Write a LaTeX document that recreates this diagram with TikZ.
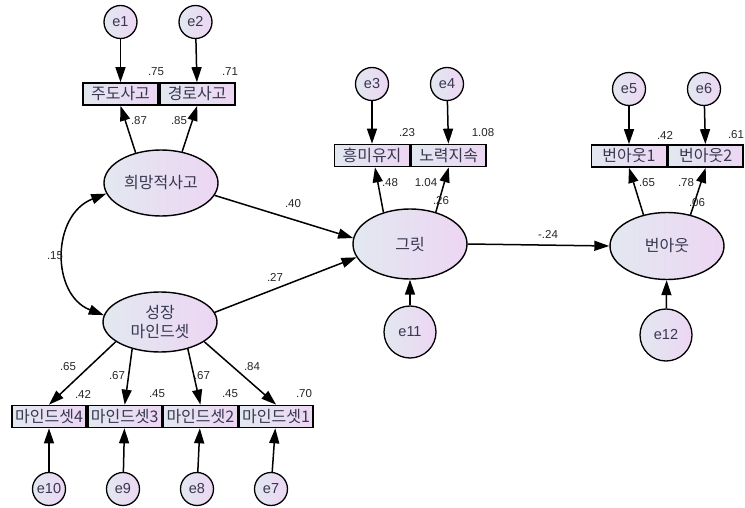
\documentclass[tikz,border=0pt]{standalone}
\usepackage{fontspec}
\setmainfont{Liberation Sans}
\newfontfamily\krfont{Noto Sans CJK KR}
\usetikzlibrary{%
  arrows.meta,%
  shapes.geometric,%
  positioning}

\definecolor{fillL}{RGB}{226,232,240}
\definecolor{fillR}{RGB}{237,214,243}
\definecolor{krtext}{RGB}{55,55,80}

\begin{document}
\begin{tikzpicture}[x=1pt,y=-1pt,
    latent/.style={ellipse,draw,line width=1.4pt,left color=fillL,right color=fillR,
      minimum width=114pt,minimum height=66pt,inner sep=0pt,text=krtext,align=center,
      font=\krfont\fontsize{16}{19}\selectfont},
    indic/.style={rectangle,draw,line width=1.7pt,left color=fillL,right color=fillR,
      minimum width=75pt,minimum height=22pt,inner sep=0pt,text=krtext,
      font=\krfont\fontsize{16}{18}\selectfont},
    errc/.style={circle,draw,line width=1.3pt,left color=fillL,right color=fillR,
      minimum size=33pt,inner sep=0pt,text=krtext,font=\fontsize{14.5}{16}\selectfont},
    bigerr/.style={errc,minimum size=52pt},
    reg/.style={line width=1.5pt,-{Triangle[length=15pt,width=10pt]}},
    coef/.style={inner sep=0pt,text=black!85,font=\fontsize{11.5}{13}\selectfont}]
  \useasboundingbox (0,0) rectangle (745,508);

  % latent variables
  \node[latent] (hope) at (161,183) {희망적사고};
  \node[latent,minimum height=60pt] (mind) at (160,322) {성장\\마인드셋};
  \node[latent,minimum height=70pt] (grit) at (410,244) {그릿};
  \node[latent,minimum height=67pt] (burn) at (667,246) {번아웃};

  % observed variables
  \node[indic] (o1) at (120.5,94) {주도사고};
  \node[indic,right=0pt of o1] (o2) {경로사고};
  \node[indic] (g1) at (372,155.5) {흥미유지};
  \node[indic,right=0pt of g1] (g2) {노력지속};
  \node[indic] (b1) at (629,156) {번아웃1};
  \node[indic,right=0pt of b1] (b2) {번아웃2};
  \node[indic,minimum width=74pt] (m4) at (49,416.5) {마인드셋4};
  \node[indic,minimum width=74pt,right=0pt of m4] (m3) {마인드셋3};
  \node[indic,minimum width=74pt,right=0pt of m3] (m2) {마인드셋2};
  \node[indic,minimum width=74pt,right=0pt of m2] (m1) {마인드셋1};

  % error terms
  \node[errc] (e1) at (120.5,22) {e1};
  \node[errc] (e2) at (195.5,22) {e2};
  \node[errc] (e3) at (372,84) {e3};
  \node[errc] (e4) at (447,84) {e4};
  \node[errc] (e5) at (629,89) {e5};
  \node[errc] (e6) at (704,89) {e6};
  \node[errc] (e10) at (49,489) {e10};
  \node[errc] (e9) at (123,489) {e9};
  \node[errc] (e8) at (197,489) {e8};
  \node[errc] (e7) at (271,489) {e7};
  \node[bigerr] (e11) at (410,332) {e11};
  \node[bigerr] (e12) at (666,335) {e12};

  % error paths
  \draw[reg] (e1) -- (o1);
  \draw[reg] (e2) -- (o2);
  \draw[reg] (e3) -- (g1);
  \draw[reg] (e4) -- (g2);
  \draw[reg] (e5) -- (b1);
  \draw[reg] (e6) -- (b2);
  \draw[reg] (e10) -- (m4);
  \draw[reg] (e9) -- (m3);
  \draw[reg] (e8) -- (m2);
  \draw[reg] (e7) -- (m1);
  \draw[reg] (e11) -- (grit);
  \draw[reg] (e12) -- (burn);

  % loadings
  \draw[reg] (hope.130) -- (o1.south);
  \draw[reg] (hope.56) -- (o2.south);
  \draw[reg] (grit.130) -- ([xshift=3pt]g1.south);
  \draw[reg] (grit.51) -- (g2.south);
  \draw[reg] (burn.127) -- (b1.south);
  \draw[reg] (burn.53) -- (b2.south);
  \draw[reg] (mind.204) -- (m4.north);
  \draw[reg] (mind.224) -- (m3.north);
  \draw[reg] (mind.316) -- (m2.north);
  \draw[reg] (mind.336) -- (m1.north);

  % structural paths
  \draw[reg] (hope.347) -- (grit.174);
  \draw[reg] (mind.10) -- (grit.194);
  \draw[reg] (grit.east) -- (burn.west);
  \draw[line width=1.5pt,{Triangle[length=15pt,width=10pt]}-{Triangle[length=15pt,width=10pt]}]
    (hope.191) .. controls (51,215) and (51,295) .. (mind.173);

  % estimates
  \node[coef] (r-o1) at (156,72) {.75};
  \node[coef] (r-o2) at (230,72) {.71};
  \node[coef] (l-o1) at (139,121) {.87};
  \node[coef] (l-o2) at (179,121) {.85};
  \node[coef] (c-hm) at (55,256) {.15};
  \node[coef] (p-hg) at (293,204) {.40};
  \node[coef] (p-mg) at (275,277) {.27};
  \node[coef] (l-m4) at (68,367) {.65};
  \node[coef] (l-m3) at (117,376) {.67};
  \node[coef] (l-m2) at (202,376) {.67};
  \node[coef] (l-m1) at (252,367) {.84};
  \node[coef] (r-m4) at (83,394) {.42};
  \node[coef] (r-m3) at (157,394) {.45};
  \node[coef] (r-m2) at (230,394) {.45};
  \node[coef] (r-m1) at (304,394) {.70};
  \node[coef] (r-g1) at (407,133) {.23};
  \node[coef] (r-g2) at (483,133) {1.08};
  \node[coef] (l-g1) at (390,183) {.48};
  \node[coef] (l-g2) at (426,183) {1.04};
  \node[coef] (r-grit) at (441,201) {.26};
  \node[coef] (p-gb) at (548,234) {-.24};
  \node[coef] (r-b1) at (665,135) {.42};
  \node[coef] (r-b2) at (736,135) {.61};
  \node[coef] (l-b1) at (647,183) {.65};
  \node[coef] (l-b2) at (686,183) {.78};
  \node[coef] (r-burn) at (697,203) {.06};
\end{tikzpicture}
\end{document}
